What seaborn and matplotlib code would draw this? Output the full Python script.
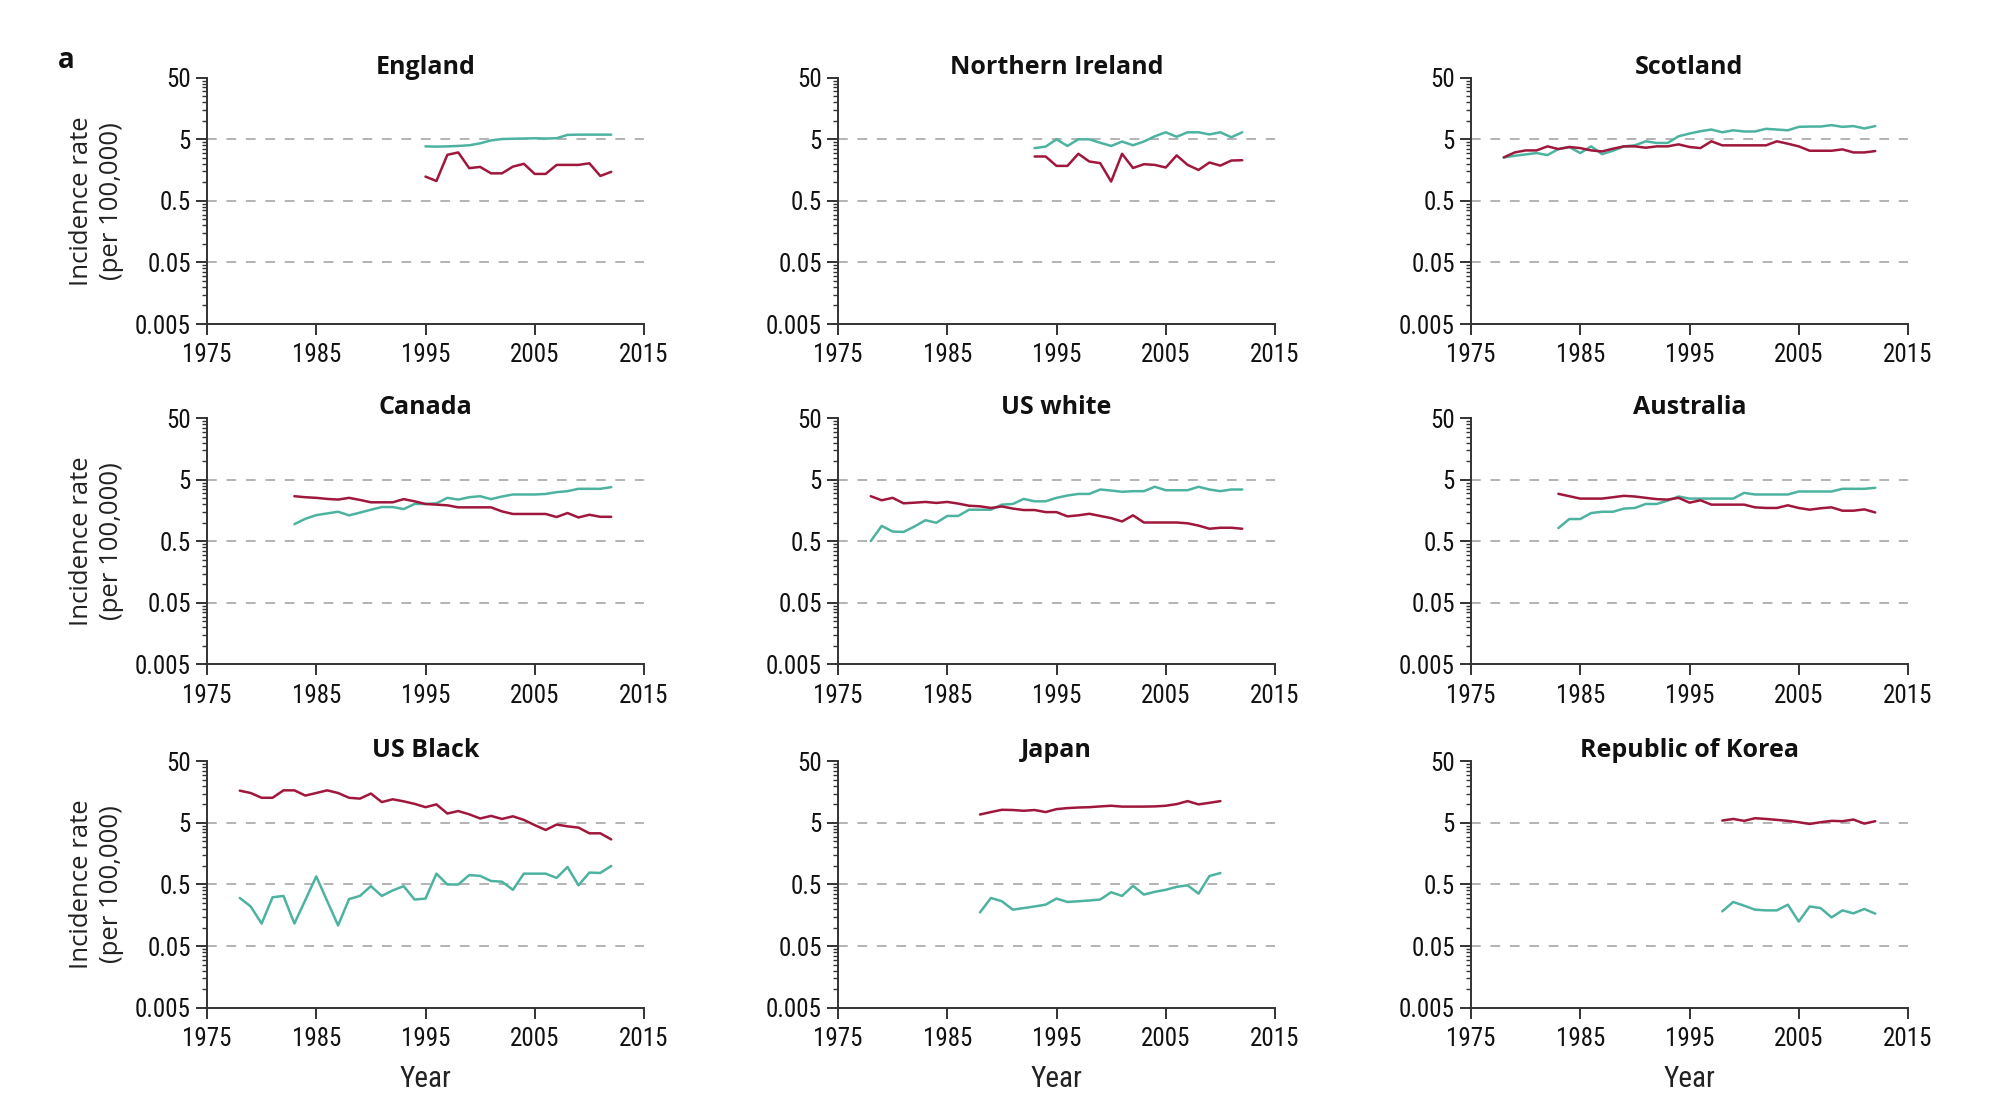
import numpy as np
import pandas as pd
import matplotlib
matplotlib.use("Agg")
import matplotlib.pyplot as plt
import seaborn as sns
from matplotlib import font_manager as fm
from matplotlib.ticker import LogLocator, NullFormatter

# ---------------- data ----------------
panel_names = ["England", "Northern Ireland", "Scotland",
               "Canada", "US white", "Australia",
               "US Black", "Japan", "Republic of Korea"]

england_years = list(range(1995, 2013))
england_teal = [3.84, 3.8, 3.84, 3.9, 4.0, 4.3, 4.8, 5.05, 5.1, 5.15, 5.2, 5.15, 5.2, 5.9, 5.95, 5.95, 5.95, 5.95]
england_red = [1.24, 1.05, 2.8, 3.06, 1.7, 1.78, 1.4, 1.4, 1.8, 2.0, 1.37, 1.37, 1.92, 1.92, 1.92, 2.04, 1.27, 1.48]

ni_years = list(range(1993, 2013))
ni_teal = [3.6, 3.8, 5.0, 3.9, 5.0, 5.0, 4.4, 3.9, 4.6, 4.0, 4.6, 5.6, 6.5, 5.5, 6.5, 6.5, 6.0, 6.5, 5.4, 6.5]
ni_red = [2.63, 2.63, 1.85, 1.85, 2.91, 2.18, 2.05, 1.03, 2.91, 1.71, 1.97, 1.92, 1.74, 2.74, 1.92, 1.59, 2.1, 1.87, 2.26, 2.29]

scotland_years = list(range(1978, 2013))
scotland_teal = [2.54, 2.70, 2.84, 2.99, 2.77, 3.47, 3.75, 2.99, 3.84, 2.87, 3.26, 3.84, 3.99, 4.64, 4.36,
                 4.36, 5.6, 6.2, 6.76, 7.2, 6.5, 7.0, 6.7, 6.7, 7.4, 7.2, 7.0, 7.96, 8.06, 8.06,
                 8.5, 7.96, 8.2, 7.5, 8.2]
scotland_red = [2.54, 3.06, 3.3, 3.3, 3.84, 3.47, 3.75, 3.6, 3.3, 3.18, 3.52, 3.84, 3.84, 3.65, 3.84,
                3.84, 4.14, 3.75, 3.6, 4.64, 3.99, 3.99, 3.99, 3.99, 3.99, 4.64, 4.24, 3.84, 3.26, 3.26,
                3.26, 3.43, 3.06, 3.06, 3.22]

canada_years = list(range(1983, 2013))
canada_teal = [0.95, 1.16, 1.33, 1.42, 1.51, 1.32, 1.46, 1.63, 1.80, 1.80, 1.67, 2.02, 2.02, 2.07, 2.54,
               2.38, 2.6, 2.7, 2.42, 2.67, 2.88, 2.88, 2.88, 2.94, 3.14, 3.26, 3.56, 3.56, 3.56, 3.79]
canada_red = [2.70, 2.60, 2.54, 2.44, 2.38, 2.54, 2.35, 2.15, 2.15, 2.15, 2.42, 2.23, 2.02, 1.97, 1.92,
              1.78, 1.78, 1.78, 1.78, 1.53, 1.39, 1.39, 1.39, 1.39, 1.24, 1.44, 1.22, 1.35, 1.25, 1.25]

uswhite_years = list(range(1978, 2013))
uswhite_teal = [0.505, 0.89, 0.72, 0.71, 0.87, 1.10, 1.0, 1.29, 1.29, 1.63, 1.63, 1.63, 1.97, 2.02, 2.44,
                2.23, 2.23, 2.54, 2.77, 2.94, 2.94, 3.47, 3.34, 3.18, 3.26, 3.26, 3.84, 3.38, 3.38, 3.38,
                3.84, 3.47, 3.26, 3.47, 3.47]
uswhite_red = [2.70, 2.32, 2.54, 2.07, 2.12, 2.18, 2.10, 2.18, 2.05, 1.89, 1.85, 1.74, 1.84, 1.70, 1.61,
               1.61, 1.49, 1.49, 1.27, 1.32, 1.40, 1.29, 1.19, 1.05, 1.32, 1.01, 1.01, 1.01, 1.01, 0.98,
               0.90, 0.80, 0.83, 0.83, 0.80]

australia_years = list(range(1983, 2013))
australia_teal = [0.82, 1.15, 1.15, 1.44, 1.51, 1.51, 1.70, 1.74, 2.02, 2.02, 2.29, 2.67, 2.47, 2.47, 2.47,
                  2.47, 2.47, 3.06, 2.88, 2.88, 2.88, 2.88, 3.22, 3.22, 3.22, 3.22, 3.56, 3.56, 3.56, 3.70]
australia_red = [2.95, 2.70, 2.47, 2.47, 2.47, 2.60, 2.74, 2.67, 2.54, 2.42, 2.38, 2.54, 2.12, 2.32, 1.97,
                 1.97, 1.97, 1.97, 1.78, 1.74, 1.74, 1.92, 1.74, 1.63, 1.72, 1.78, 1.57, 1.57, 1.65, 1.47]

usblack_years = list(range(1978, 2013))
usblack_teal = [0.302, 0.22, 0.116, 0.31, 0.326, 0.116, 0.28, 0.676, 0.27, 0.108, 0.29, 0.326, 0.47, 0.326, 0.40,
                0.47, 0.285, 0.295, 0.75, 0.5, 0.5, 0.71, 0.69, 0.57, 0.555, 0.41, 0.75, 0.75, 0.75, 0.64,
                0.96, 0.485, 0.78, 0.77, 1.0]
usblack_red = [16.7, 15.3, 12.8, 12.8, 16.9, 16.9, 13.9, 15.3, 16.9, 15.3, 12.8, 12.4, 15.0, 10.9, 12.1,
               11.2, 10.2, 9.0, 10.0, 7.1, 7.8, 6.9, 5.9, 6.5, 5.8, 6.4, 5.6, 4.6, 3.84, 4.7,
               4.4, 4.2, 3.39, 3.39, 2.70]

japan_years = list(range(1988, 2011))
japan_teal = [0.176, 0.302, 0.267, 0.195, 0.207, 0.22, 0.235, 0.295, 0.26, 0.267, 0.275, 0.285, 0.374, 0.326,
              0.475, 0.343, 0.38, 0.41, 0.458, 0.485, 0.355, 0.686, 0.767]
japan_red = [6.85, 7.5, 8.17, 8.1, 7.87, 8.1, 7.5, 8.37, 8.7, 8.9, 9.0, 9.27, 9.5, 9.2, 9.2, 9.2, 9.27, 9.5,
             10.1, 11.3, 10.0, 10.6, 11.3]

korea_years = list(range(1998, 2013))
korea_teal = [0.183, 0.26, 0.226, 0.195, 0.19, 0.19, 0.235, 0.125, 0.22, 0.207, 0.146, 0.19, 0.17, 0.2, 0.168]
korea_red = [5.46, 5.8, 5.4, 5.96, 5.8, 5.6, 5.4, 5.13, 4.81, 5.13, 5.4, 5.33, 5.67, 4.87, 5.33]

series_years = [england_years, ni_years, scotland_years, canada_years, uswhite_years,
                australia_years, usblack_years, japan_years, korea_years]
series_teal = [england_teal, ni_teal, scotland_teal, canada_teal, uswhite_teal,
               australia_teal, usblack_teal, japan_teal, korea_teal]
series_red = [england_red, ni_red, scotland_red, canada_red, uswhite_red,
              australia_red, usblack_red, japan_red, korea_red]

ytick_vals = [0.005, 0.05, 0.5, 5, 50]
ytick_labels = ["0.005", "0.05", "0.5", "5", "50"]
xtick_vals = [1975, 1985, 1995, 2005, 2015]
grid_vals = [0.05, 0.5, 5]

RED = "#A0173C"
TEAL = "#4DB3A0"
palette = {"red": RED, "teal": TEAL}

# ---------------- fonts ----------------
sns.set_theme(style="white")
names = {f.name for f in fm.fontManager.ttflist}
cond_font = "Roboto Condensed" if "Roboto Condensed" in names else "Liberation Sans"
plt.rcParams["font.family"] = [cond_font, "DejaVu Sans"]
label_font = ["Open Sans", "DejaVu Sans"]

# ---------------- figure ----------------
fig = plt.figure(figsize=(20, 11.01), dpi=100)
col_left = [0.1035, 0.419, 0.7355]
row_bottom = [0.7057, 0.3965, 0.0848]
w, h = 0.2185, 0.2237

for i, name in enumerate(panel_names):
    r, c = divmod(i, 3)
    ax = fig.add_axes([col_left[c], row_bottom[r], w, h])
    yrs = series_years[i]
    df = pd.DataFrame({
        "Year": list(yrs) + list(yrs),
        "rate": list(series_teal[i]) + list(series_red[i]),
        "type": ["teal"] * len(yrs) + ["red"] * len(yrs),
    })
    for val in grid_vals:
        ax.axhline(val, color="#b3b3b3", lw=1.4, ls=(0, (5, 5)), zorder=0)
    sns.lineplot(data=df, x="Year", y="rate", hue="type", palette=palette,
                 hue_order=["teal", "red"], lw=1.8, legend=False, ax=ax,
                 estimator=None, errorbar=None)
    ax.set_yscale("log")
    ax.set_ylim(0.005, 50)
    ax.set_xlim(1975, 2015)
    ax.set_yticks(ytick_vals)
    ax.set_yticklabels(ytick_labels)
    ax.yaxis.set_minor_locator(LogLocator(base=10, subs=[1, 1.5, 2, 2.5, 3, 3.5, 4, 4.5]))
    ax.yaxis.set_minor_formatter(NullFormatter())
    ax.set_xticks(xtick_vals)
    ax.set_xticklabels([str(v) for v in xtick_vals])
    for sp in ["top", "right"]:
        ax.spines[sp].set_visible(False)
    for sp in ["left", "bottom"]:
        ax.spines[sp].set_color("#333333")
        ax.spines[sp].set_linewidth(1.4)
    ax.tick_params(axis="both", which="major", direction="out", length=8, width=1.4,
                   color="#333333", labelsize=18, labelcolor="#111111",
                   left=True, bottom=True)
    ax.tick_params(axis="y", which="major", pad=3.5)
    ax.tick_params(axis="x", which="major", pad=6)
    ax.tick_params(axis="y", which="minor", direction="out", length=3.8, width=1.0,
                   color="#333333", left=True)
    ax.set_title(name, fontsize=18, fontweight="bold", pad=3, color="#111111",
                 family=label_font)
    if c == 0:
        ax.set_ylabel("Incidence rate\n(per 100,000)", fontsize=18.5, family=label_font,
                      labelpad=8, color="#222222", linespacing=1.25)
    else:
        ax.set_ylabel("")
    if r == 2:
        ax.set_xlabel("Year", fontsize=21, labelpad=10, color="#222222")
    else:
        ax.set_xlabel("")

fig.text(0.033, 0.9455, "a", fontsize=20, fontweight="bold", ha="center", va="center",
         color="#111111", family=label_font)

fig.savefig("out.png", dpi=100)
